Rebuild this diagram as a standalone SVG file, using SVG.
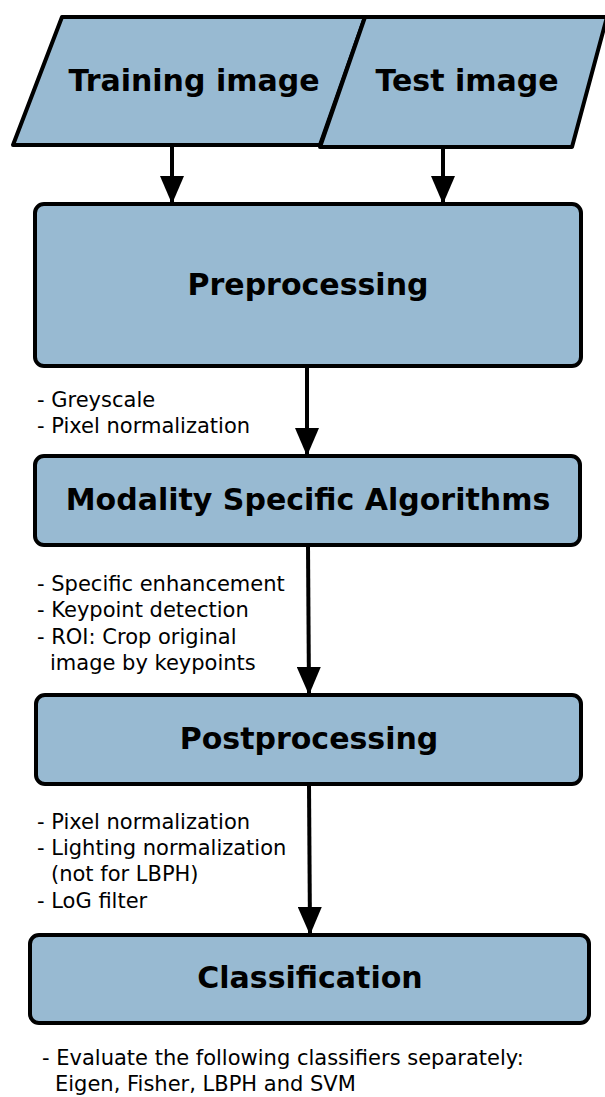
<svg xmlns="http://www.w3.org/2000/svg" width="605" height="1097" viewBox="0 0 605 1097">
<defs>
<style>
.shape{fill:#98bad2;stroke:#000;stroke-width:4;stroke-linejoin:round}
.title{font-family:"DejaVu Sans",sans-serif;font-weight:bold;font-size:30px;fill:#000;text-anchor:middle}
.note{font-family:"DejaVu Sans",sans-serif;font-size:21px;fill:#000}
.conn{stroke:#000;stroke-width:4;fill:none}
</style>
<marker id="arr" viewBox="0 0 14 12" refX="14" refY="6" markerWidth="7" markerHeight="6" markerUnits="strokeWidth" orient="auto">
<path d="M0,0 L14,6 L0,12 Z" fill="#000"/>
</marker>
</defs>
<rect width="605" height="1097" fill="#fff"/>
<g id="training">
<polygon class="shape" points="62,17 365,17 320,145 13,145"/>
<text class="title" x="194" y="91">Training image</text>
</g>
<g id="test">
<polygon class="shape" points="365,17 607,17 572,147 320,147"/>
<text class="title" x="467" y="91">Test image</text>
</g>
<g id="preprocessing">
<rect class="shape" x="35" y="204" width="546" height="162" rx="9"/>
<text class="title" x="308" y="295">Preprocessing</text>
</g>
<g id="modality">
<rect class="shape" x="35" y="456" width="545" height="89" rx="9"/>
<text class="title" x="308" y="510">Modality Specific Algorithms</text>
</g>
<g id="postprocessing">
<rect class="shape" x="36" y="695" width="545" height="89" rx="9"/>
<text class="title" x="309" y="749">Postprocessing</text>
</g>
<g id="classification">
<rect class="shape" x="30" y="935" width="559" height="88" rx="9"/>
<text class="title" x="310" y="988">Classification</text>
</g>
<g id="connectors">
<line class="conn" x1="172" y1="145" x2="172" y2="204" marker-end="url(#arr)"/>
<line class="conn" x1="443" y1="147" x2="443" y2="204" marker-end="url(#arr)"/>
<line class="conn" x1="307" y1="366" x2="307" y2="456" marker-end="url(#arr)"/>
<line class="conn" x1="308" y1="545" x2="309" y2="695" marker-end="url(#arr)"/>
<line class="conn" x1="309" y1="784" x2="310" y2="935" marker-end="url(#arr)"/>
</g>
<g id="labels">
<text class="note" x="37" y="407">- Greyscale</text>
<text class="note" x="37" y="433">- Pixel normalization</text>
<text class="note" x="37" y="591">- Specific enhancement</text>
<text class="note" x="37" y="617">- Keypoint detection</text>
<text class="note" x="37" y="644">- ROI: Crop original</text>
<text class="note" x="50" y="670">image by keypoints</text>
<text class="note" x="37" y="829">- Pixel normalization</text>
<text class="note" x="37" y="855">- Lighting normalization</text>
<text class="note" x="51" y="881">(not for LBPH)</text>
<text class="note" x="37" y="908">- LoG filter</text>
<text class="note" x="42" y="1065">- Evaluate the following classifiers separately:</text>
<text class="note" x="55" y="1091">Eigen, Fisher, LBPH and SVM</text>
</g>
</svg>
